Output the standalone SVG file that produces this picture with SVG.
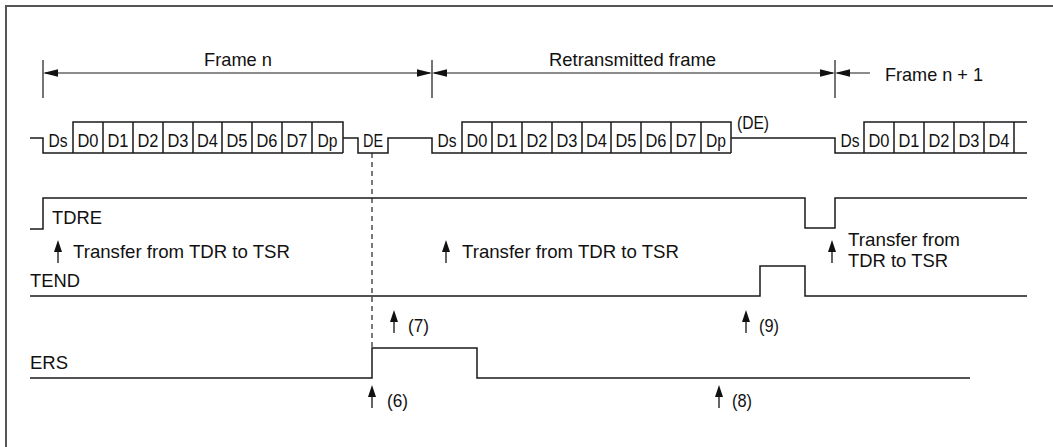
<svg xmlns="http://www.w3.org/2000/svg" width="1053" height="447" viewBox="0 0 1053 447">
<style>
.sig{fill:none;stroke:#1a1a1a;stroke-width:1.5}
.dim{fill:none;stroke:#1a1a1a;stroke-width:1.2}
.lbl{font-family:"Liberation Sans",Arial,sans-serif;font-size:18.5px;fill:#111}
.cell{font-family:"Liberation Sans",Arial,sans-serif;font-size:18px;fill:#111;text-anchor:middle}
.arr{fill:#111;stroke:none}
</style>
<defs>
<g id="up"><path d="M0,0 L4,12 L-4,12 Z" class="arr"/><line x1="0" y1="10" x2="0" y2="23" stroke="#111" stroke-width="1.3"/></g>
</defs>
<rect width="1053" height="447" fill="#fff"/>
<g id="border"><path d="M6,447V6H1053" fill="none" stroke="#555" stroke-width="2"/></g>

<g id="dimensions">
<path class="dim" d="M43,60V98M432,60V98M835,60V98"/>
<path class="dim" d="M45,73H430M434,73H833M837,73H870"/>
<path class="arr" d="M43,73l15,-3.8v7.6z M432,73l-15,-3.8v7.6z M432,73l15,-3.8v7.6z M835,73l-15,-3.8v7.6z M835,73l15,-3.8v7.6z"/>
<text class="lbl" x="204" y="66" textLength="68" lengthAdjust="spacingAndGlyphs">Frame n</text>
<text class="lbl" x="549" y="66" textLength="167" lengthAdjust="spacingAndGlyphs">Retransmitted frame</text>
<text class="lbl" x="885" y="81" textLength="98" lengthAdjust="spacingAndGlyphs">Frame n + 1</text>
</g>

<g id="data-line">
<path class="sig" d="M30,138H43V153H343M73,153V122H343V153M103,122V153M133,122V153M163,122V153M193,122V153M222,122V153M252,122V153M282,122V153M312,122V153"/>
<path class="sig" d="M343,138H358V153H388V138H432V153H731M462,153V122H731V153M492,122V153M522,122V153M552,122V153M582,122V153M611,122V153M641,122V153M671,122V153M701,122V153"/>
<path class="sig" d="M731,138H835V153H1027M864,153V122H1027M894,122V153M924,122V153M954,122V153M984,122V153M1014,122V153"/>
<g class="cell">
<text x="58" y="147" textLength="19" lengthAdjust="spacingAndGlyphs">Ds</text><text x="88" y="147" textLength="21" lengthAdjust="spacingAndGlyphs">D0</text><text x="118" y="147" textLength="21" lengthAdjust="spacingAndGlyphs">D1</text><text x="148" y="147" textLength="21" lengthAdjust="spacingAndGlyphs">D2</text><text x="178" y="147" textLength="21" lengthAdjust="spacingAndGlyphs">D3</text><text x="207.5" y="147" textLength="21" lengthAdjust="spacingAndGlyphs">D4</text><text x="237" y="147" textLength="21" lengthAdjust="spacingAndGlyphs">D5</text><text x="267" y="147" textLength="21" lengthAdjust="spacingAndGlyphs">D6</text><text x="297" y="147" textLength="21" lengthAdjust="spacingAndGlyphs">D7</text><text x="327.5" y="147" textLength="20" lengthAdjust="spacingAndGlyphs">Dp</text>
<text x="373" y="147" textLength="20" lengthAdjust="spacingAndGlyphs">DE</text>
<text x="447" y="147" textLength="19" lengthAdjust="spacingAndGlyphs">Ds</text><text x="477" y="147" textLength="21" lengthAdjust="spacingAndGlyphs">D0</text><text x="507" y="147" textLength="21" lengthAdjust="spacingAndGlyphs">D1</text><text x="537" y="147" textLength="21" lengthAdjust="spacingAndGlyphs">D2</text><text x="567" y="147" textLength="21" lengthAdjust="spacingAndGlyphs">D3</text><text x="596.5" y="147" textLength="21" lengthAdjust="spacingAndGlyphs">D4</text><text x="626" y="147" textLength="21" lengthAdjust="spacingAndGlyphs">D5</text><text x="656" y="147" textLength="21" lengthAdjust="spacingAndGlyphs">D6</text><text x="686" y="147" textLength="21" lengthAdjust="spacingAndGlyphs">D7</text><text x="716" y="147" textLength="20" lengthAdjust="spacingAndGlyphs">Dp</text>
<text x="850" y="147" textLength="19" lengthAdjust="spacingAndGlyphs">Ds</text><text x="879" y="147" textLength="21" lengthAdjust="spacingAndGlyphs">D0</text><text x="909" y="147" textLength="21" lengthAdjust="spacingAndGlyphs">D1</text><text x="939" y="147" textLength="21" lengthAdjust="spacingAndGlyphs">D2</text><text x="969" y="147" textLength="21" lengthAdjust="spacingAndGlyphs">D3</text><text x="999" y="147" textLength="21" lengthAdjust="spacingAndGlyphs">D4</text>
</g>
<text class="cell" x="753" y="129" textLength="32" lengthAdjust="spacingAndGlyphs">(DE)</text>
</g>

<g id="TDRE">
<path class="sig" d="M30,229H43V198H805V228H835V198H1027"/>
<text class="lbl" x="52" y="224" textLength="50" lengthAdjust="spacingAndGlyphs">TDRE</text>
<text class="lbl" x="73" y="258" textLength="217" lengthAdjust="spacingAndGlyphs">Transfer from TDR to TSR</text>
<text class="lbl" x="462" y="258" textLength="217" lengthAdjust="spacingAndGlyphs">Transfer from TDR to TSR</text>
<text class="lbl" x="848" y="246" textLength="112" lengthAdjust="spacingAndGlyphs">Transfer from</text>
<text class="lbl" x="848" y="267" textLength="100" lengthAdjust="spacingAndGlyphs">TDR to TSR</text>
</g>

<g id="TEND">
<path class="sig" d="M30,296H760V266H805V296H1027"/>
<text class="lbl" x="30" y="287" textLength="50" lengthAdjust="spacingAndGlyphs">TEND</text>
</g>

<g id="ERS">
<path class="sig" d="M30,378H372V348H477V378H970"/>
<text class="lbl" x="30" y="369" textLength="38" lengthAdjust="spacingAndGlyphs">ERS</text>
</g>

<g id="connectors">
<line x1="372" y1="153" x2="372" y2="348" stroke="#222" stroke-width="1.2" stroke-dasharray="5,4"/>
<use href="#up" x="58" y="240"/>
<use href="#up" x="446" y="240"/>
<use href="#up" x="832" y="240"/>
<use href="#up" x="394" y="310"/>
<use href="#up" x="746" y="310"/>
<use href="#up" x="372" y="385"/>
<use href="#up" x="719" y="385"/>
<text class="lbl" x="408" y="332" textLength="21" lengthAdjust="spacingAndGlyphs">(7)</text>
<text class="lbl" x="759" y="332" textLength="20" lengthAdjust="spacingAndGlyphs">(9)</text>
<text class="lbl" x="387" y="407" textLength="21" lengthAdjust="spacingAndGlyphs">(6)</text>
<text class="lbl" x="732" y="407" textLength="20" lengthAdjust="spacingAndGlyphs">(8)</text>
</g>
</svg>
